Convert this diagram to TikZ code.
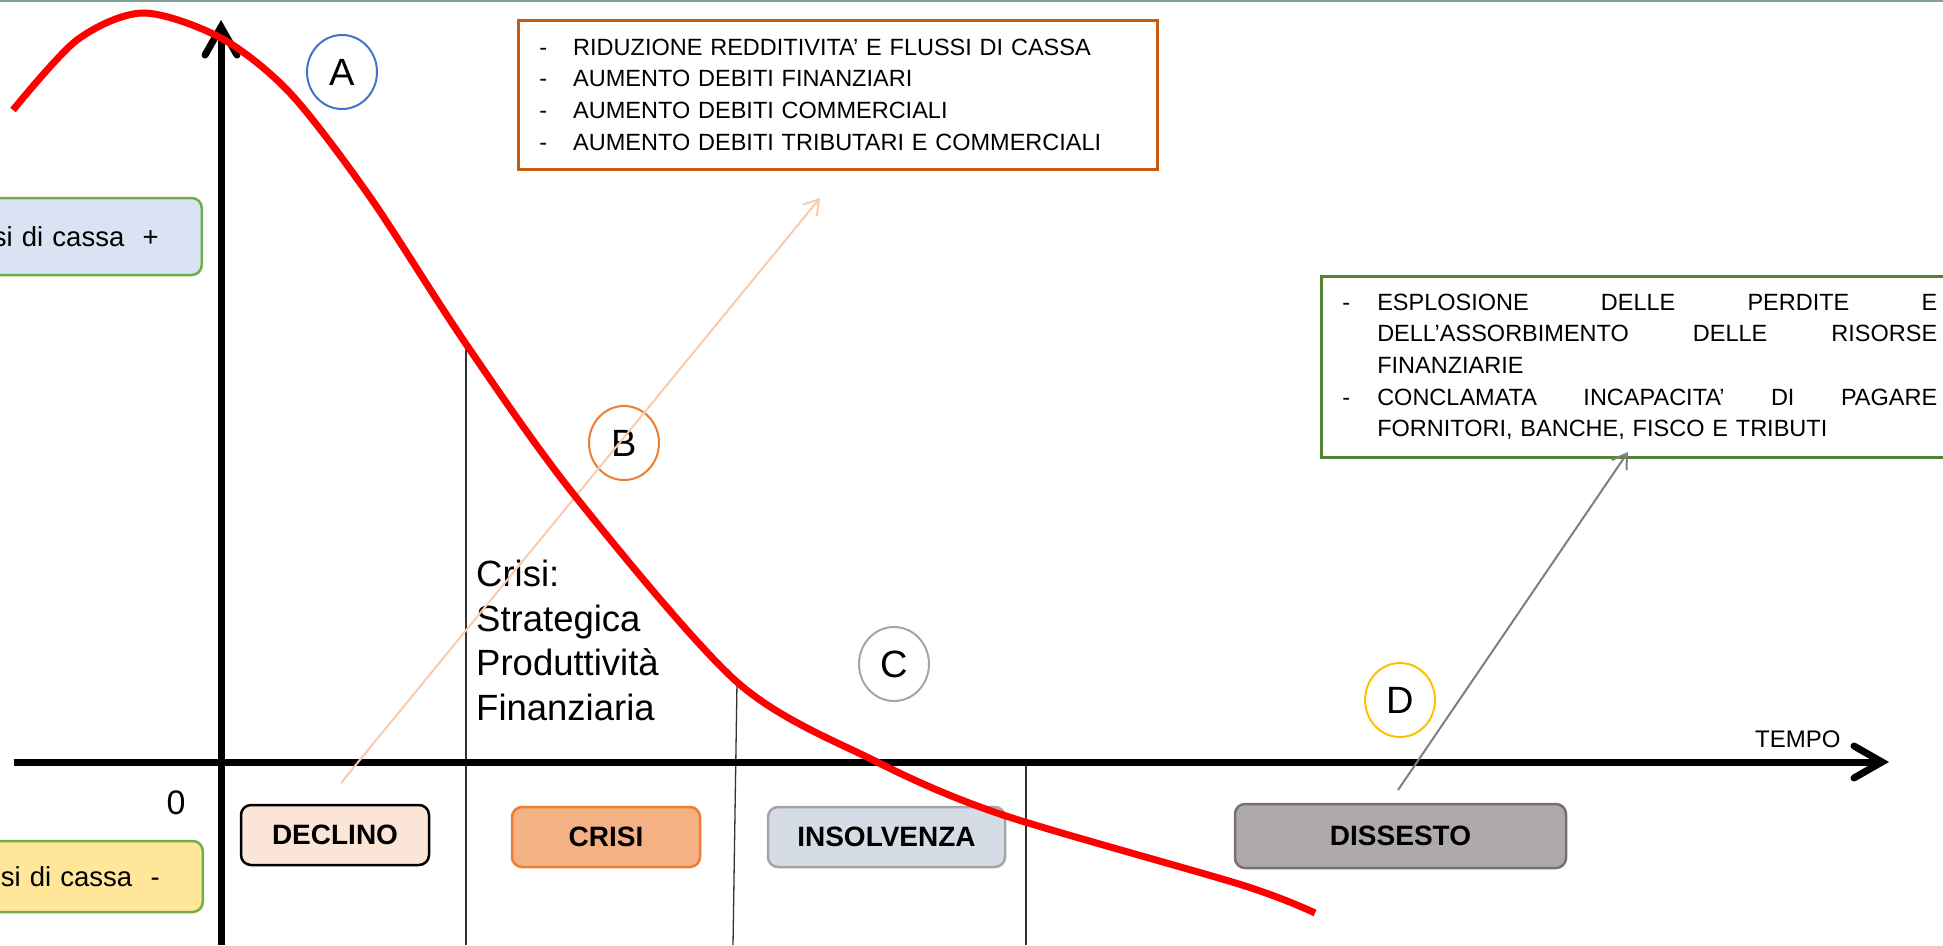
\documentclass[tikz,border=0pt]{standalone}
\usepackage{fontspec}
\setmainfont{Liberation Sans}
\usetikzlibrary{arrows.meta,shapes.geometric}

\definecolor{cornice}{HTML}{84A08E}
\definecolor{curva}{HTML}{FF0000}
\definecolor{bordoArancio}{HTML}{C55A11}
\definecolor{bordoVerde}{HTML}{548235}
\definecolor{verdeChiaro}{HTML}{70AD47}
\definecolor{azzurro}{HTML}{DAE3F3}
\definecolor{giallo}{HTML}{FFE699}
\definecolor{rosaDeclino}{HTML}{FBE5D6}
\definecolor{aranCrisi}{HTML}{F4B183}
\definecolor{aranBordo}{HTML}{ED7D31}
\definecolor{grigioInsolv}{HTML}{D6DCE5}
\definecolor{grigioBordo}{HTML}{A5A5A5}
\definecolor{grigioDiss}{HTML}{AEAAAA}
\definecolor{grigioScuro}{HTML}{767171}
\definecolor{bluA}{HTML}{4472C4}
\definecolor{gialloD}{HTML}{FFC000}
\definecolor{frecciaB}{HTML}{F8CBAD}
\definecolor{frecciaD}{HTML}{7F7F7F}

\newcommand{\fsz}[2]{\fontsize{#1}{#2}\selectfont}
\newcommand{\trattino}[1]{\makebox[34pt][l]{-}#1}
\newcommand{\rientro}{\hspace*{35pt}}

\tikzset{
  asse/.style={line width=7, -{Straight Barb[length=28,width=32,line cap=round]}},
  sottile/.style={line width=1.3, black!80},
  elenco/.style={rectangle, line width=2.5, fill=white, inner xsep=21, inner ysep=0,
    align=left, font=\fsz{23.5}{31.7}},
  flusso/.style={rectangle, rounded corners=10, draw=verdeChiaro, line width=2.5,
    inner xsep=43, inner ysep=0, text width=174, align=right, font=\fsz{27.5}{32}},
  fase/.style={rectangle, rounded corners=10, line width=2.5, inner sep=0,
    minimum height=60, font=\fsz{28}{32}\bfseries},
  lettera/.style={ellipse, line width=2, fill=white, inner sep=0,
    minimum width=70, minimum height=74, font=\fsz{38}{40}},
  freccia/.style={line width=2, -{Straight Barb[length=14,width=18]}}
}

\begin{document}
\begin{tikzpicture}[x=1pt,y=-1pt]
\useasboundingbox (0,0) rectangle (1943,945);
\clip (0,0) rectangle (1943,945);
\draw[cornice, line width=2] (0,1) -- (1943,1);

% linee di separazione
\coordinate (s1a) at (466,344);
\coordinate (s1b) at (466,945);
\coordinate (s2a) at (737,682);
\coordinate (s2b) at (733,945);
\coordinate (s3a) at (1026,766);
\coordinate (s3b) at (1026,945);
\draw[sottile] (s1a) -- (s1b);
\draw[sottile] (s2a) -- (s2b);
\draw[sottile] (s3a) -- (s3b);

% assi
\coordinate (O) at (221,762);
\coordinate (xini) at (14,762);
\coordinate (xfin) at (1889,762);
\coordinate (yini) at (221,945);
\coordinate (yfin) at (221,20);
\draw[asse] (xini) -- (xfin);
\draw[asse] (yini) -- (yfin);
\node[font=\fsz{24}{26}, anchor=base west, inner sep=0] (tempo) at (1755,747) {TEMPO};
\node[font=\fsz{34}{36}, inner sep=0] (zero) at (176,803) {0};

% flussi di cassa
\node[flusso, fill=azzurro, minimum height=77, anchor=east] (fpiu) at (203,236.5) {si di cassa\ \ +};
\node[flusso, fill=giallo, minimum height=71, anchor=east] (fmeno) at (204,876.5) {si di cassa\ \ -};

% fasi
\node[fase, draw=black, fill=rosaDeclino, minimum width=188] (declino) at (335,835) {DECLINO};
\node[fase, draw=aranBordo, fill=aranCrisi, minimum width=188] (crisi) at (606,837) {CRISI};
\node[fase, draw=grigioBordo, fill=grigioInsolv, minimum width=237] (insolvenza) at (886.5,837) {INSOLVENZA};
\node[fase, draw=grigioScuro, fill=grigioDiss, minimum width=331, minimum height=64] (dissesto) at (1400.5,836) {DISSESTO};

% riquadri di testo
\node[elenco, draw=bordoArancio, anchor=north west, minimum height=149, text width=597] (cause) at (517,19)
  {\trattino{RIDUZIONE REDDITIVITA’ E FLUSSI DI CASSA}\\
   \trattino{AUMENTO DEBITI FINANZIARI}\\
   \trattino{AUMENTO DEBITI COMMERCIALI}\\
   \trattino{AUMENTO DEBITI TRIBUTARI E COMMERCIALI}};
\node[elenco, draw=bordoVerde, anchor=north west, minimum height=181, text width=595] (esiti) at (1320,275)
  {\makebox[35pt][l]{-}\makebox[560pt][s]{ESPLOSIONE\hfill DELLE\hfill PERDITE\hfill E}\\
   \rientro\makebox[560pt][s]{DELL’ASSORBIMENTO\hfill DELLE\hfill RISORSE}\\
   \rientro FINANZIARIE\\
   \makebox[35pt][l]{-}\makebox[560pt][s]{CONCLAMATA\hfill INCAPACITA’\hfill DI\hfill PAGARE}\\
   \rientro FORNITORI, BANCHE, FISCO E TRIBUTI};

\node[font=\fsz{36.5}{44.5}, align=left, anchor=north west, inner sep=0] (tipi) at (476,560)
  {Crisi:\\Strategica\\Produttività\\Finanziaria};

% cerchi
\node[lettera, draw=bluA] (A) at (342,72) {A};
\node[lettera, draw=aranBordo] (B) at (624,443) {B};
\node[lettera, draw=grigioBordo] (C) at (894,664) {C};
\node[lettera, draw=gialloD] (D) at (1400,700) {D};

% frecce
\coordinate (bini) at (341,783);
\coordinate (bfin) at (820,198);
\coordinate (dini) at (1398,790);
\coordinate (dfin) at (1628,452);
\draw[freccia, frecciaB] (bini) -- (bfin);
\draw[freccia, frecciaD] (dini) -- (dfin);

% andamento
\draw[curva, line width=7] plot[smooth] coordinates {
  (13,110) (77,40) (143,13) (221,38) (290,93) (370,197) (466,344) (575,496)
  (737,682) (873,760) (1000,814) (1242,885) (1315,913)};
\end{tikzpicture}
\end{document}
